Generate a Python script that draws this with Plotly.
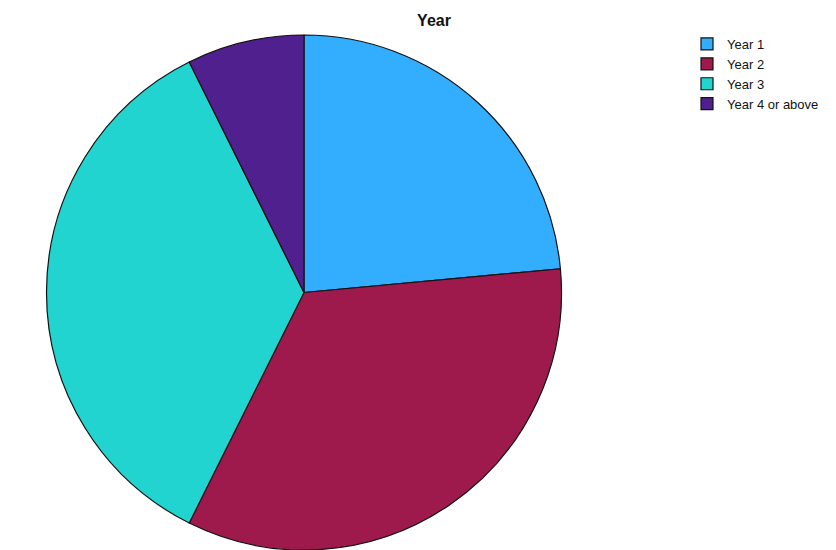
import plotly.graph_objects as go

categories = ["Year 1", "Year 2", "Year 3", "Year 4 or above"]
counts = [16, 23, 24, 5]
colors = ["#33AEFF", "#9E1A4C", "#22D4D0", "#51208F"]

W, H = 836, 550
fig = go.Figure(go.Pie(
    labels=categories,
    values=counts,
    sort=False,
    direction="clockwise",
    rotation=0,
    marker=dict(colors=colors, line=dict(color="#111111", width=1.2)),
    textinfo="none",
    hoverinfo="label+value+percent",
    domain=dict(x=[46 / W, 562 / W], y=[0, 1 - 35 / H]),
))

fig.update_layout(
    width=W, height=H,
    margin=dict(l=0, r=0, t=0, b=0),
    paper_bgcolor="white",
    plot_bgcolor="white",
    title=dict(text="<b>Year</b>", x=434 / W, xanchor="center", y=1 - 20 / H, yanchor="middle",
               font=dict(family="Liberation Sans, Arial, sans-serif", size=16, color="#111111")),
    legend=dict(x=687 / W, xanchor="left", y=1 - 29 / H, yanchor="top",
                font=dict(family="Liberation Sans, Arial, sans-serif", size=13, color="#111111"),
                itemwidth=30, tracegroupgap=0, bgcolor="rgba(0,0,0,0)"),
    showlegend=True,
)

fig.write_html("out.html")
